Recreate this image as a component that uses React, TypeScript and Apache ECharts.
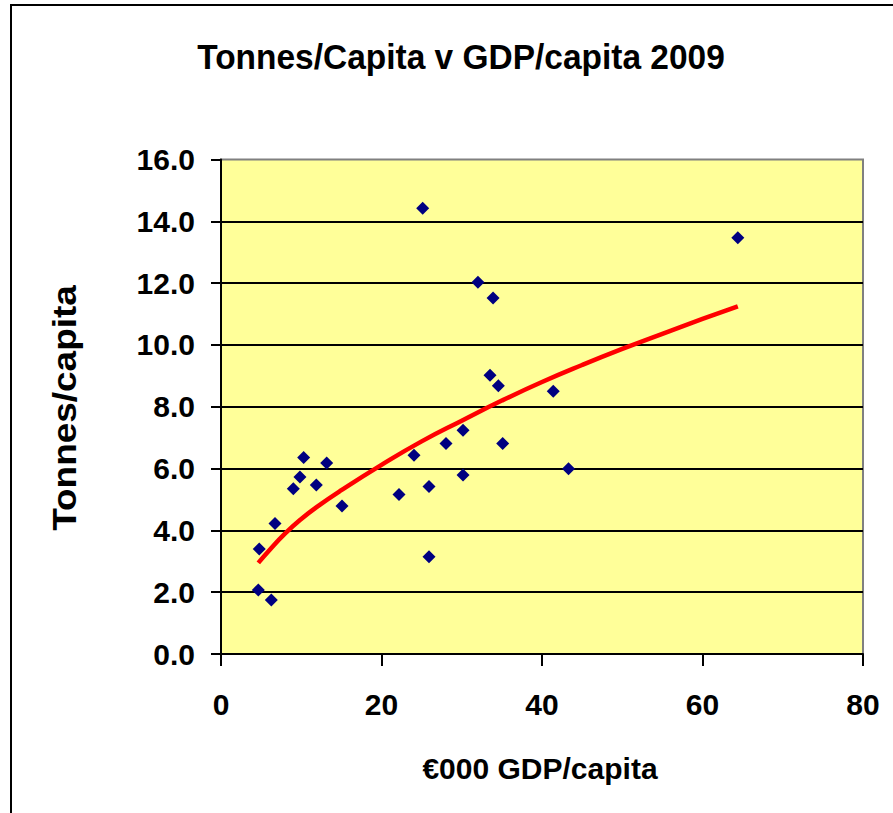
import React, { useEffect, useRef } from "react";
import * as echarts from "echarts";

const titleText = "Tonnes/Capita v GDP/capita 2009";
const xAxisName = "€000 GDP/capita";
const yAxisName = "Tonnes/capita";

// GDP per capita (€000)
const gdpPerCapita = [
  4.77, 4.65, 6.27, 6.73, 9.01, 9.84, 10.3, 11.88, 13.17, 15.08,
  22.18, 24.05, 25.92, 25.92, 28.04, 30.16, 30.16, 35.1, 25.13, 32.02,
  33.9, 33.52, 34.56, 41.4, 43.3, 64.4,
];
// Tonnes per capita
const tonnesPerCapita = [
  3.4, 2.07, 1.75, 4.22, 5.35, 5.73, 6.36, 5.47, 6.18, 4.79,
  5.16, 6.43, 5.42, 3.15, 6.81, 7.24, 5.79, 6.81, 14.42, 12.03,
  11.52, 9.02, 8.68, 8.5, 5.99, 13.47,
];

// Trend line (power trendline)
const trendX = [4.65, 6, 8, 10, 12, 15, 20, 25, 30, 35, 40, 45, 50, 55, 60, 64.4];
const trendY = [2.95, 3.35, 3.9, 4.37, 4.77, 5.3, 6.12, 6.88, 7.55, 8.2, 8.8, 9.35, 9.87, 10.36, 10.84, 11.25];

const xTicks = { min: 0, max: 80, interval: 20 };
const yTicks = { min: 0, max: 16, interval: 2 };

const FONT = '"Liberation Sans", Arial, Helvetica, sans-serif';

export default function App() {
  const ref = useRef<HTMLDivElement>(null);

  useEffect(() => {
    if (!ref.current) return;
    const chart = echarts.init(ref.current, null, { renderer: "svg" });
    const scatterData = gdpPerCapita.map((x, i) => [x, tonnesPerCapita[i]]);
    const trendData = trendX.map((x, i) => [x, trendY[i]]);

    chart.setOption({
      animation: false,
      backgroundColor: "#ffffff",
      grid: {
        left: 221,
        top: 159.5,
        right: 30,
        bottom: 159,
        show: true,
        backgroundColor: "#FFFF99",
        borderColor: "#808080",
        borderWidth: 2,
      },
      graphic: [
        {
          type: "rect",
          shape: { x: 11, y: 5, width: 1200, height: 1200 },
          style: { fill: "none", stroke: "#000000", lineWidth: 2 },
          silent: true,
        },
        {
          type: "text",
          x: 461,
          y: 57,
          scaleX: 0.93,
          style: {
            text: titleText,
            fontSize: 36,
            fontWeight: "bold",
            fontFamily: FONT,
            fill: "#000000",
            align: "center",
            verticalAlign: "middle",
          },
        },
        {
          type: "text",
          x: 540,
          y: 768,
          style: {
            text: xAxisName,
            fontSize: 30,
            fontWeight: "bold",
            fontFamily: FONT,
            fill: "#000000",
            align: "center",
            verticalAlign: "middle",
          },
        },
        {
          type: "text",
          x: 64,
          y: 408,
          rotation: Math.PI / 2,
          scaleX: 1.12,
          style: {
            text: yAxisName,
            fontSize: 33,
            fontWeight: "bold",
            fontFamily: FONT,
            fill: "#000000",
            align: "center",
            verticalAlign: "middle",
          },
        },
      ],
      xAxis: {
        type: "value",
        min: xTicks.min,
        max: xTicks.max,
        interval: xTicks.interval,
        axisLine: { show: true, onZero: false, lineStyle: { color: "#000000", width: 2 } },
        axisTick: { show: true, length: 12, lineStyle: { color: "#000000", width: 2 } },
        axisLabel: {
          fontSize: 30,
          fontWeight: "bold",
          fontFamily: FONT,
          color: "#000000",
          margin: 35,
        },
        splitLine: { show: false },
      },
      yAxis: {
        type: "value",
        min: yTicks.min,
        max: yTicks.max,
        interval: yTicks.interval,
        axisLine: { show: true, onZero: false, lineStyle: { color: "#000000", width: 2 } },
        axisTick: { show: true, length: 10, lineStyle: { color: "#000000", width: 2 } },
        axisLabel: {
          fontSize: 30,
          fontWeight: "bold",
          fontFamily: FONT,
          color: "#000000",
          margin: 26,
          formatter: (v: number) => v.toFixed(1),
        },
        splitLine: {
          show: true,
          showMaxLine: false,
          showMinLine: false,
          lineStyle: { color: "#000000", width: 2 },
        },
      },
      series: [
        {
          type: "line",
          data: trendData,
          smooth: 0.5,
          symbol: "none",
          lineStyle: { color: "#FF0000", width: 4.5 },
          z: 2,
          silent: true,
        },
        {
          type: "scatter",
          data: scatterData,
          symbol: "diamond",
          symbolSize: 13,
          itemStyle: { color: "#000080", opacity: 1 },
          z: 3,
        },
      ],
    });

    return () => chart.dispose();
  }, []);

  return (
    <div
      ref={ref}
      style={{ position: "absolute", left: 0, top: 0, width: 893, height: 813 }}
    />
  );
}
